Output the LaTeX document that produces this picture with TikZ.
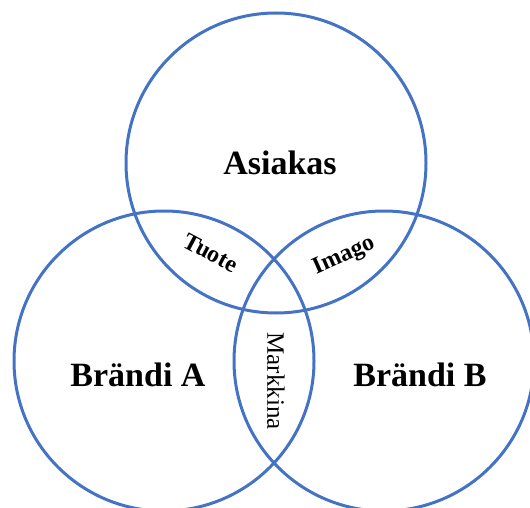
\documentclass[tikz,border=0pt]{standalone}
\usepackage{fontspec}
\setmainfont{Liberation Serif}
\definecolor{ringblue}{HTML}{4472C4}
\begin{document}
\begin{tikzpicture}[x=1pt,y=-1pt,
  ring/.style={draw=ringblue,line width=3pt},
  bigtxt/.style={font=\fontsize{34}{38}\selectfont\bfseries,anchor=base},
  lenstxt/.style={font=\fontsize{24}{28}\selectfont\bfseries},
  lenstxtr/.style={font=\fontsize{25}{29}\selectfont}]
\useasboundingbox (0,0) rectangle (530,508);
\clip (0,0) rectangle (530,508);
% the three overlapping sets
\coordinate (cTop) at (276,163);
\coordinate (cLeft) at (164,361);
\coordinate (cRight) at (384,361);
\draw[ring] (cTop) circle[radius=150];
\draw[ring] (cLeft) circle[radius=150];
\draw[ring] (cRight) circle[radius=150];
% set names
\node[bigtxt] (asiakas) at (280,175) {Asiakas};
\node[bigtxt] (brandiA) at (138,386) {Brändi A};
\node[bigtxt] (brandiB) at (420,386) {Brändi B};
% pairwise overlaps
\node[lenstxt,rotate=-28] (tuote) at (211,253) {Tuote};
\node[lenstxt,rotate=24] (imago) at (344,256) {Imago};
\node[lenstxtr,rotate=-90] (markkina) at (276,381) {Markkina};
\end{tikzpicture}
\end{document}
